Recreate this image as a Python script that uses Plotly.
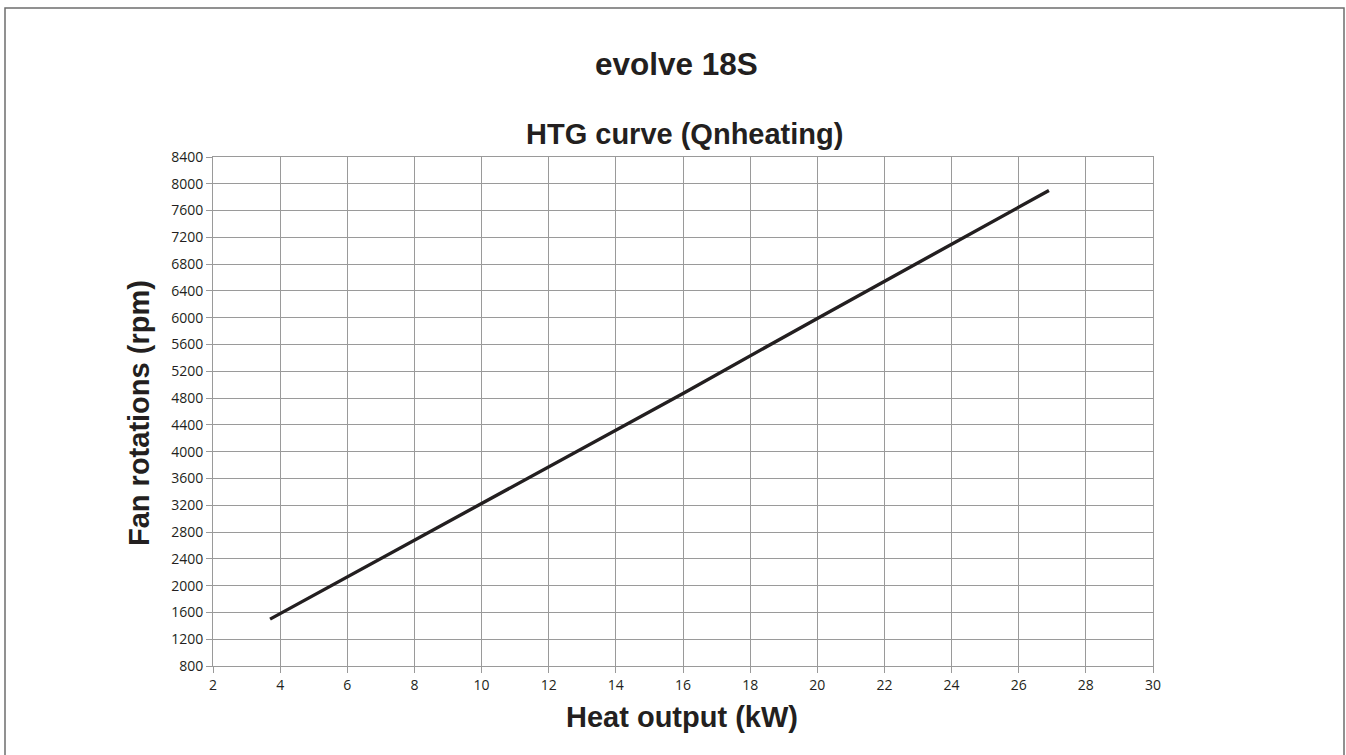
import plotly.graph_objects as go

# Data
heat_output_kw = [3.7, 10, 16, 20, 26.9]
fan_rpm = [1500, 3220, 4870, 5990, 7900]

x_ticks = list(range(2, 31, 2))
y_ticks = list(range(800, 8401, 400))

main_title = "evolve 18S"
sub_title = "HTG curve (Qnheating)"
x_title = "Heat output (kW)"
y_title = "Fan rotations (rpm)"

W, H = 1346, 755
L, R, T, B = 213, 193, 157, 89
pw, ph = W - L - R, H - T - B

def px_x(px):
    return (px - L) / pw

def px_y(py):
    return (H - B - py) / ph

fig = go.Figure()
fig.add_trace(go.Scatter(
    x=heat_output_kw, y=fan_rpm, mode="lines",
    line=dict(color="#231f20", width=3.4),
    showlegend=False, hoverinfo="x+y",
))

def tfont(size):
    return dict(family="Liberation Sans, Arial, sans-serif", size=size, color="#231f20")

tick_font = dict(family="Open Sans, sans-serif", size=14, color="#231f20")

fig.update_layout(
    width=W, height=H,
    margin=dict(l=L, r=R, t=T, b=B),
    paper_bgcolor="white", plot_bgcolor="white",
    showlegend=False,
)

axis_common = dict(
    showgrid=True, gridcolor="#9a9a9a", gridwidth=1,
    showline=True, linecolor="#9a9a9a", linewidth=1, mirror=True,
    ticks="outside", ticklen=6, tickcolor="#9a9a9a", tickwidth=1,
    tickfont=tick_font, zeroline=False,
)
fig.update_xaxes(range=[2, 30], tickvals=x_ticks, ticktext=[str(v) for v in x_ticks], **axis_common)
fig.update_yaxes(range=[800, 8400], tickvals=y_ticks, ticktext=[str(v) for v in y_ticks], **axis_common)

fig.add_annotation(text=f"<b>{main_title}</b>", xref="paper", yref="paper",
                   x=px_x(676), y=px_y(64), showarrow=False, font=tfont(31.5),
                   xanchor="center", yanchor="middle")
fig.add_annotation(text=f"<b>{sub_title}</b>", xref="paper", yref="paper",
                   x=px_x(684), y=px_y(134), showarrow=False, font=tfont(29),
                   xanchor="center", yanchor="middle")
fig.add_annotation(text=f"<b>{x_title}</b>", xref="paper", yref="paper",
                   x=px_x(682), y=px_y(717), showarrow=False, font=tfont(29),
                   xanchor="center", yanchor="middle")
fig.add_annotation(text=f"<b>{y_title}</b>", xref="paper", yref="paper",
                   x=px_x(139), y=px_y(413), showarrow=False, font=tfont(29),
                   xanchor="center", yanchor="middle", textangle=-90)

fig.add_shape(type="rect", xref="paper", yref="paper",
              x0=px_x(5), x1=px_x(1344), y0=px_y(790), y1=px_y(8),
              line=dict(color="#6e6e6e", width=1.5), layer="below")

fig.write_html("out.html", config={"displayModeBar": False},
               post_script="document.body.style.margin='0px';")
